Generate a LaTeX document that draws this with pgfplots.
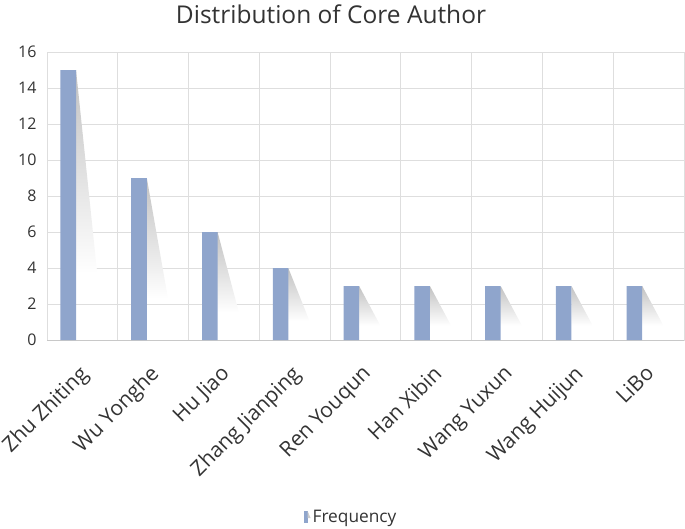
\documentclass[border=0pt]{standalone}
\usepackage{pgfplots}
\pgfplotsset{compat=1.18}
\usepackage{fontspec}
\setmainfont{Open Sans}
\definecolor{barcol}{RGB}{143,165,204}
\definecolor{gridc}{RGB}{222,222,222}
\definecolor{axc}{RGB}{200,200,200}
\definecolor{txt}{RGB}{51,51,51}
\begin{document}
\begin{tikzpicture}[x=1pt,y=1pt]
\path[use as bounding box] (0,0) rectangle (685,528);
\node[anchor=center,text=txt,font=\fontsize{24.5}{28}\selectfont] at (331,514) {Distribution of Core Author};
\begin{axis}[
  at={(47pt,188pt)}, anchor=south west,
  scale only axis, width=637pt, height=288pt,
  xmin=-0.5, xmax=8.5, ymin=0, ymax=16,
  ytick={0,2,...,16},
  xtick={0,...,8},
  xticklabels={Zhu Zhiting,Wu Yonghe,Hu Jiao,Zhang Jianping,Ren Youqun,Han Xibin,Wang Yuxun,Wang Huijun,LiBo},
  minor xtick={-0.5,0.5,...,8.5},
  xminorgrids=true, ymajorgrids=true,
  grid style={gridc, line width=0.8pt},
  minor grid style={gridc, line width=0.8pt},
  axis line style={gridc, line width=0.8pt},
  major tick length=0pt, minor tick length=0pt,
  tick style={draw=none},
  yticklabel style={text=txt, font=\fontsize{16}{19}\selectfont, xshift=-7pt},
  xticklabel style={xshift=-4.5pt, yshift=-19pt, rotate=45, anchor=north east, text=txt, font=\fontsize{21}{25}\selectfont},
  /pgf/number format/assume math mode=true,
  legend style={at={(304pt,-177pt)}, anchor=center, draw=none, fill=none, font=\fontsize{17.3}{20}\selectfont, text=txt, legend cell align=left},
  legend image code/.code={\fill[barcol] (-8pt,-6pt) rectangle (-4pt,6pt); \fill[black!20] (-4pt,6pt) -- (-1pt,-1pt) -- (-4pt,-1pt) -- cycle;},
]
\draw[axc, line width=0.8pt] (axis cs:-0.5,0) -- (axis cs:8.5,0);
\addplot[draw=none, top color=black!24, bottom color=white, forget plot] coordinates {(-0.09,15) (0.21,3.7) (-0.09,3.7)};
\addplot[draw=none, top color=black!24, bottom color=white, forget plot] coordinates {(0.91,9) (1.21,2.3) (0.91,2.3)};
\addplot[draw=none, top color=black!24, bottom color=white, forget plot] coordinates {(1.91,6) (2.21,1.55) (1.91,1.55)};
\addplot[draw=none, top color=black!24, bottom color=white, forget plot] coordinates {(2.91,4) (3.21,1.05) (2.91,1.05)};
\addplot[draw=none, top color=black!24, bottom color=white, forget plot] coordinates {(3.91,3) (4.21,0.8) (3.91,0.8)};
\addplot[draw=none, top color=black!24, bottom color=white, forget plot] coordinates {(4.91,3) (5.21,0.8) (4.91,0.8)};
\addplot[draw=none, top color=black!24, bottom color=white, forget plot] coordinates {(5.91,3) (6.21,0.8) (5.91,0.8)};
\addplot[draw=none, top color=black!24, bottom color=white, forget plot] coordinates {(6.91,3) (7.21,0.8) (6.91,0.8)};
\addplot[draw=none, top color=black!24, bottom color=white, forget plot] coordinates {(7.91,3) (8.21,0.8) (7.91,0.8)};
\addplot[ybar, bar width=0.22, fill=barcol, draw=none] coordinates {(-0.2,15) (0.8,9) (1.8,6) (2.8,4) (3.8,3) (4.8,3) (5.8,3) (6.8,3) (7.8,3)};
\addlegendentry{Frequency}
\end{axis}
\end{tikzpicture}
\end{document}
